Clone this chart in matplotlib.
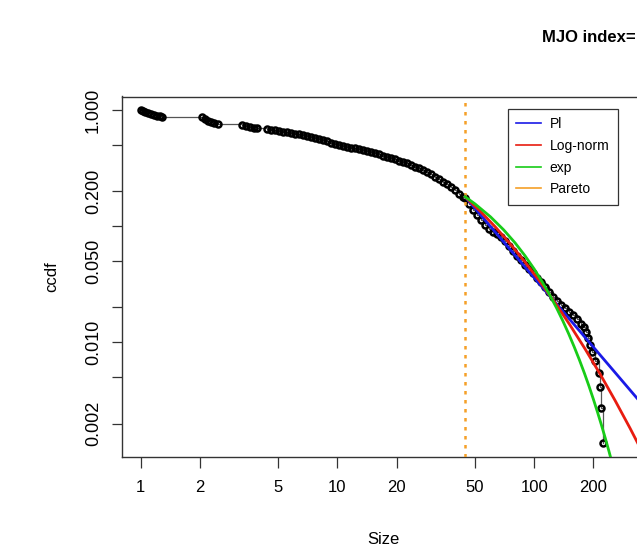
import matplotlib
matplotlib.use("Agg")
import matplotlib.pyplot as plt
from matplotlib.lines import Line2D

plt.rcParams['font.family'] = ['Liberation Sans', 'DejaVu Sans']

# ---------------- data ----------------
ccdf_x = [1.000, 1.027, 1.052, 1.089, 1.128, 1.168, 1.210, 1.253, 1.283,
          2.050, 2.123, 2.198, 2.277, 2.359, 2.472,
          3.273, 3.431, 3.594, 3.767, 3.903,
          4.386, 4.597, 4.817, 5.047, 5.289, 5.543, 5.809, 6.087, 6.380, 6.685,
          7.005, 7.341, 7.694, 8.061, 8.450, 8.855, 9.279, 9.723, 10.19, 10.68,
          11.19, 11.73, 12.29, 12.88, 13.50, 14.14, 14.82, 15.54, 16.28, 17.06,
          17.88, 18.74, 19.63, 20.57, 21.56, 22.59, 23.67, 24.80, 25.99, 27.24,
          28.54, 29.92, 31.35, 32.85, 34.43, 36.08, 37.81, 39.62, 41.51, 43.51, 44.54,
          46.68, 48.92, 51.26, 53.72, 56.29, 58.98, 61.82, 64.78, 67.87, 71.13,
          74.53, 78.11, 81.85, 85.77, 89.89, 94.21, 98.72, 103.5, 108.4, 113.6,
          119.1, 124.8, 130.8, 137.1, 143.6, 150.5, 157.7, 165.2, 173.2,
          179.4, 183.6, 187.9, 192.4, 197.0, 204.0, 213.8, 215.1, 217.6, 223.3]
ccdf_y = [1.000, 0.985, 0.965, 0.940, 0.918, 0.900, 0.889, 0.880, 0.876,
          0.871, 0.845, 0.812, 0.785, 0.768, 0.753,
          0.750, 0.728, 0.714, 0.703, 0.696,
          0.6863, 0.6768, 0.6682, 0.6597, 0.6506, 0.6423, 0.6341, 0.6260, 0.6180, 0.6088,
          0.5998, 0.5874, 0.5754, 0.5636, 0.5519, 0.5378, 0.5242, 0.5129, 0.5033, 0.4939,
          0.4842, 0.4757, 0.4673, 0.4590, 0.4508, 0.4438, 0.4359, 0.4248, 0.4149, 0.4051,
          0.3956, 0.3863, 0.3765, 0.3669, 0.3569, 0.3478, 0.3376, 0.3258, 0.3144, 0.3034,
          0.2927, 0.2797, 0.2661, 0.2533, 0.2425, 0.2289, 0.2162, 0.2037, 0.1908, 0.1801, 0.1766,
          0.1568, 0.1378, 0.1249, 0.1131, 0.1014, 0.0937, 0.0900, 0.0857, 0.0808, 0.0746,
          0.0669, 0.0606, 0.0554, 0.0507, 0.0468, 0.0428, 0.0392, 0.0358, 0.0328, 0.0297,
          0.0272, 0.0248, 0.0227, 0.0210, 0.0198, 0.0184, 0.0172, 0.0159, 0.0144,
          0.0137, 0.01233, 0.01096, 0.00959, 0.00822, 0.00685, 0.00548, 0.00411, 0.00274, 0.00137]

xmin_cut = 44.54

pl_x = [44.54, 700.0]
pl_y = [0.1794, 0.00076]

lnorm_x = [44.54, 53.09, 63.27, 75.42, 89.88, 107.2, 127.7, 152.2, 181.5, 216.4,
           257.8, 307.3, 366.3, 436.7]
lnorm_y = [0.1794, 0.1351, 0.09922, 0.07084, 0.04918, 0.03330, 0.02197, 0.01409,
           0.008792, 0.005346, 0.003169, 0.001827, 0.001026, 0.000561]

exp_x = [44.54, 50, 60, 70, 80, 90, 100, 110, 120, 130, 140, 150, 160, 170, 180,
         190, 200, 210, 220, 230, 240, 250, 260]
exp_y = [0.1794, 0.1558, 0.1204, 0.0930, 0.0719, 0.0555, 0.0429, 0.0331, 0.0256,
         0.0198, 0.01529, 0.01181, 0.00912, 0.00705, 0.00545, 0.00421, 0.00325,
         0.00251, 0.00194, 0.00150, 0.00116, 0.000895, 0.000691]

x_ticks = [1, 2, 5, 10, 20, 50, 100, 200]
x_tick_labels = ['1', '2', '5', '10', '20', '50', '100', '200']
y_ticks = [1.0, 0.5, 0.2, 0.1, 0.05, 0.02, 0.01, 0.005, 0.002]
y_tick_labels = ['1.000', '', '0.200', '', '0.050', '', '0.010', '', '0.002']

legend_labels = ['Pl', 'Log-norm', 'exp', 'Pareto']
c_pl, c_ln, c_exp, c_par = '#1a1ae6', '#e81c10', '#18cc18', '#f5a028'
legend_colors = [c_pl, c_ln, c_exp, c_par]

# ---------------- figure ----------------
W, H = 637, 549
fig = plt.figure(figsize=(W / 100, H / 100), dpi=100)
left, right, top, bottom = 122, 720, 96.5, 456.7
ax = fig.add_axes([left / W, (H - bottom) / H, (right - left) / W, (bottom - top) / H])
ax.set_xscale('log')
ax.set_yscale('log')
ax.set_xlim(0.803, 881)
ax.set_ylim(0.001038, 1.307)

ax.plot(ccdf_x, ccdf_y, color='#555555', lw=0.9, drawstyle='steps-post', zorder=2)
ax.plot(ccdf_x, ccdf_y, 'o', ms=4.3, mfc='none', mec='black', mew=1.8, zorder=3)

ax.axvline(xmin_cut, color=c_par, lw=1.8, ls=(0, (1.4, 2.2)), zorder=4)

ax.plot(pl_x, pl_y, color=c_pl, lw=2, zorder=5)
ax.plot(lnorm_x, lnorm_y, color=c_ln, lw=2, zorder=5)
ax.plot(exp_x, exp_y, color=c_exp, lw=2, zorder=5)

ax.set_xticks(x_ticks)
ax.set_xticklabels(x_tick_labels)
ax.set_yticks(y_ticks)
ax.set_yticklabels(y_tick_labels)
ax.minorticks_off()
ax.tick_params(axis='x', length=8, width=0.9, pad=9, labelsize=12, color='#333333')
ax.tick_params(axis='y', length=7.5, width=0.9, pad=7, labelsize=13, labelrotation=90,
               color='#333333')
for lab in ax.get_yticklabels():
    lab.set_va('center')
for sp in ax.spines.values():
    sp.set_color('#333333')
    sp.set_linewidth(1.0)

fig.text(383 / W, 1 - 540 / H, 'Size', ha='center', va='center', fontsize=12)
fig.text(52 / W, 1 - 277 / H, 'ccdf', ha='center', va='center', rotation=90, fontsize=12)
fig.text(542 / W, 1 - 37 / H, 'MJO index=', ha='left', va='center', fontsize=12,
         fontweight='bold')

handles = [Line2D([], [], color=c, lw=1.2) for c in legend_colors]
leg = ax.legend(handles, legend_labels, loc='upper left',
                bbox_to_anchor=(508 / W, 1 - 109 / H), bbox_transform=fig.transFigure,
                frameon=True, fancybox=False, edgecolor='black', fontsize=10,
                handlelength=1.8, handletextpad=0.6, borderpad=0.6, labelspacing=0.55,
                borderaxespad=0)
leg.get_frame().set_linewidth(0.9)

fig.savefig('out.png', dpi=100)
